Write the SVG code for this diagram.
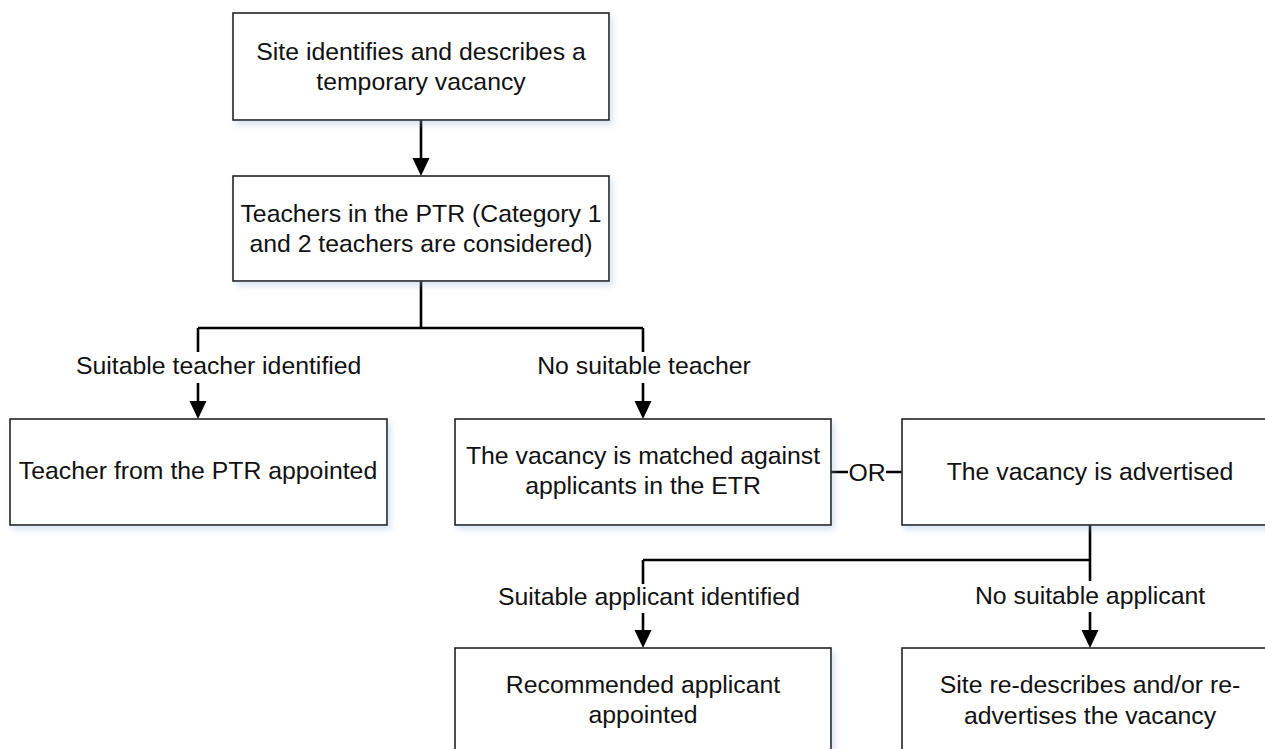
<svg xmlns="http://www.w3.org/2000/svg" width="1265" height="749" viewBox="0 0 1265 749">
<style>
.box{fill:#fff;stroke:#222;stroke-width:1.6;filter:url(#sh)}
.t{font-family:"Liberation Sans",Arial,sans-serif;font-size:24.8px;fill:#111;text-anchor:middle}
.c{fill:none;stroke:#000;stroke-width:2.6}
.h{fill:#000}
</style>
<defs>
<filter id="sh" x="-5%" y="-10%" width="115%" height="130%">
<feDropShadow dx="3" dy="4" stdDeviation="3" flood-color="#8fb0d8" flood-opacity="0.35"/>
</filter>
</defs>
<rect width="1265" height="749" fill="#fff"/>
<g id="connectors">
<path class="c" d="M421 120V160"/>
<polygon class="h" points="412.5,158 429.5,158 421,176"/>
<path class="c" d="M421 281V328M198 328H643M198 328V352M198 383V403M643 328V352M643 383V403"/>
<polygon class="h" points="189.5,401 206.5,401 198,419"/>
<polygon class="h" points="634.5,401 651.5,401 643,419"/>
<path class="c" d="M831 472H848M886 472H902"/>
<text class="t" x="867" y="481">OR</text>
<path class="c" d="M1090 525V581M643 560H1090M643 560V584M643 613V632M1090 612V632"/>
<polygon class="h" points="634.5,630 651.5,630 643,648"/>
<polygon class="h" points="1081.5,630 1098.5,630 1090,648"/>
<text class="t" x="76" y="374" style="text-anchor:start">Suitable teacher identified</text>
<text class="t" x="644" y="374">No suitable teacher</text>
<text class="t" x="649" y="605">Suitable applicant identified</text>
<text class="t" x="1090" y="604">No suitable applicant</text>
</g>
<g id="n1"><rect class="box" x="233" y="13" width="376" height="107"/>
<text class="t" x="421" y="60">Site identifies and describes a</text>
<text class="t" x="421" y="90">temporary vacancy</text></g>
<g id="n2"><rect class="box" x="233" y="176" width="376" height="105"/>
<text class="t" x="421" y="222">Teachers in the PTR (Category 1</text>
<text class="t" x="421" y="252">and 2 teachers are considered)</text></g>
<g id="n3"><rect class="box" x="10" y="419" width="377" height="106"/>
<text class="t" x="198" y="479">Teacher from the PTR appointed</text></g>
<g id="n4"><rect class="box" x="455" y="419" width="376" height="106"/>
<text class="t" x="643" y="464">The vacancy is matched against</text>
<text class="t" x="643" y="494">applicants in the ETR</text></g>
<g id="n5"><rect class="box" x="902" y="419" width="376" height="106"/>
<text class="t" x="1090" y="480">The vacancy is advertised</text></g>
<g id="n6"><rect class="box" x="455" y="648" width="376" height="106"/>
<text class="t" x="643" y="693">Recommended applicant</text>
<text class="t" x="643" y="723">appointed</text></g>
<g id="n7"><rect class="box" x="902" y="648" width="376" height="106"/>
<text class="t" x="1090" y="693">Site re-describes and/or re-</text>
<text class="t" x="1090" y="724">advertises the vacancy</text></g>
</svg>
